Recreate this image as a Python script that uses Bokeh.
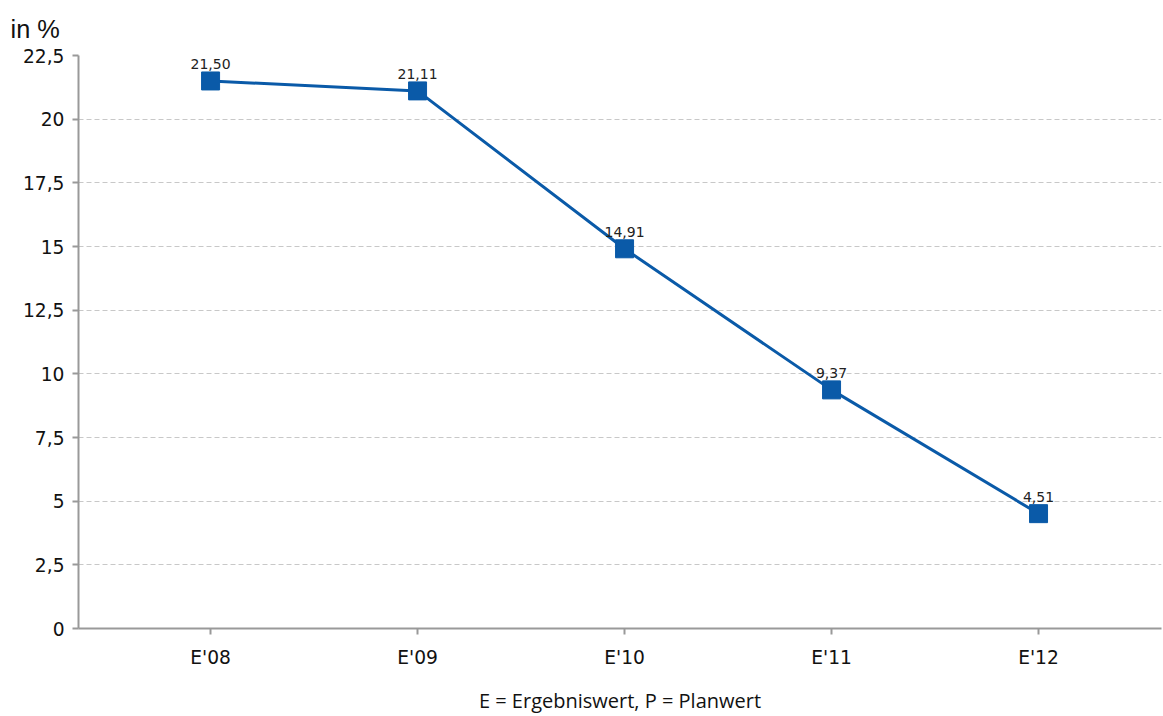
from bokeh.plotting import figure
from bokeh.models import FixedTicker, Title, ColumnDataSource, Range1d
from bokeh.embed import file_html
from bokeh.resources import INLINE

categories = ["E'08", "E'09", "E'10", "E'11", "E'12"]
values = [21.50, 21.11, 14.91, 9.37, 4.51]
value_labels = ["21,50", "21,11", "14,91", "9,37", "4,51"]
y_ticks = [0, 2.5, 5, 7.5, 10, 12.5, 15, 17.5, 20, 22.5]
y_tick_labels = ["0", "2,5", "5", "7,5", "10", "12,5", "15", "17,5", "20", "22,5"]

xs = list(range(len(categories)))
src = ColumnDataSource(dict(x=xs, y=values, lbl=value_labels))

p = figure(width=1163, height=716, output_backend="svg", toolbar_location=None,
           x_range=Range1d(-0.638, 4.594), y_range=Range1d(0, 22.5),
           min_border_left=78, min_border_right=2, min_border_top=54, min_border_bottom=87)
p.outline_line_color = None
p.background_fill_color = "white"

col = "#0a5aa8"
p.line("x", "y", source=src, line_color=col, line_width=3)
p.scatter("x", "y", source=src, marker="square", size=18, fill_color=col, line_color=col)
p.text("x", "y", text="lbl", source=src, text_align="center", text_baseline="bottom",
       y_offset=-12, text_font_size="10.5pt", text_color="#222222",
       text_font={"value": "DejaVu Sans"})

p.xaxis.ticker = FixedTicker(ticks=xs)
p.xaxis.major_label_overrides = {i: c for i, c in enumerate(categories)}
p.yaxis.ticker = FixedTicker(ticks=y_ticks)
p.yaxis.major_label_overrides = {t: l for t, l in zip(y_ticks, y_tick_labels)}

for ax in (p.xaxis, p.yaxis):
    ax.axis_line_color = "#999999"
    ax.axis_line_width = 2
    ax.major_tick_line_color = "#999999"
    ax.major_tick_line_width = 2
    ax.major_tick_out = 6
    ax.major_tick_in = 0
    ax.minor_tick_line_color = None
    ax.major_label_text_font = "DejaVu Sans"
    ax.major_label_text_font_size = "14pt"
    ax.major_label_text_color = "#111111"
p.yaxis.major_label_standoff = 8
p.xaxis.major_label_standoff = 12

p.xaxis.axis_label = "E = Ergebniswert, P = Planwert"
p.xaxis.axis_label_text_font = "Open Sans"
p.xaxis.axis_label_text_font_style = "normal"
p.xaxis.axis_label_text_font_size = "15pt"
p.xaxis.axis_label_standoff = 16
p.xaxis.axis_label_text_color = "#111111"

p.xgrid.grid_line_color = None
p.ygrid.grid_line_color = "#c8c8c8"
p.ygrid.grid_line_dash = "5 3"
p.ygrid.grid_line_width = 1

p.title = Title(text="in %", align="left", offset=-68, standoff=25, text_font="Liberation Sans",
                text_font_size="19pt", text_font_style="normal", text_color="#111111")

open("out.html", "w").write(file_html(p, INLINE))
